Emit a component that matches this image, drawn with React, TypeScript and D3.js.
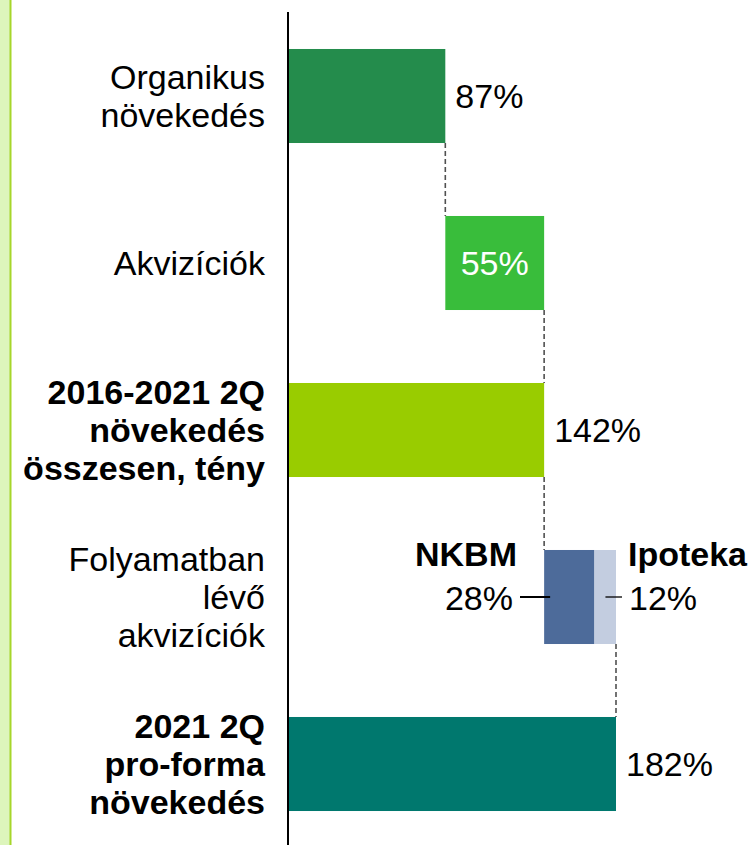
import React from 'react';
import * as d3 from 'd3';

// rows of the waterfall, top to bottom
const categories = ['organic', 'acq', 'total', 'pending', 'proforma'];
const rowLabels = [
  ['Organikus', 'növekedés'],
  ['Akvizíciók'],
  ['2016-2021 2Q', 'növekedés', 'összesen, tény'],
  ['Folyamatban', 'lévő', 'akvizíciók'],
  ['2021 2Q', 'pro-forma', 'növekedés'],
];
const boldRows = [false, false, true, false, true];
const isTotal = [false, false, true, false, true];
const values = [87, 55, 142, null, 182];
const pendingNames = ['NKBM', 'Ipoteka'];
const pendingValues = [28, 12];

const colors = ['#248C4C', '#39BD3B', '#99CC00', null, '#00786E'];
const pendingColors = ['#4D6B9A', '#C3CDE0'];

const W = 753;
const H = 845;
const FONT = '"Liberation Sans", Arial, sans-serif';
const FS = 34;

const App = () => {
  const x = d3.scaleLinear().domain([0, 182]).range([289, 616]);
  const y = d3
    .scaleBand()
    .domain(categories)
    .range([12.5, 847.5])
    .paddingInner(0.437)
    .paddingOuter(0.2185);
  const bw = y.bandwidth();

  // cumulative start / end of every row
  let running = 0;
  const rows = categories.map((c, i) => {
    const v = values[i] ?? d3.sum(pendingValues);
    const start = isTotal[i] ? 0 : running;
    const end = start + v;
    running = end;
    return { c, i, v, start, end };
  });

  const lineH = 38;
  const base = 12; // half cap height

  return (
    <svg width={W} height={H} style={{ position: 'absolute', left: 0, top: 0 }} fontFamily={FONT}>
      <rect x={0} y={0} width={W} height={H} fill="#fff" />
      {/* left decoration strip */}
      <rect x={0} y={0} width={10} height={H} fill="#DDF5BC" />
      <rect x={9.5} y={0} width={2} height={H} fill="#A6D62A" />

      {/* dashed connectors */}
      {rows.slice(0, -1).map((r, i) => {
        const next = rows[i + 1];
        return (
          <line
            key={'c' + i}
            x1={x(r.end)}
            x2={x(r.end)}
            y1={(y(r.c) as number) + bw}
            y2={y(next.c) as number}
            stroke="#505050"
            strokeWidth={1.6}
            strokeDasharray="5,3"
          />
        );
      })}

      {/* bars */}
      {rows.map((r) => {
        const top = y(r.c) as number;
        if (values[r.i] == null) {
          let acc = r.start;
          return (
            <g key={r.c}>
              {pendingValues.map((pv, k) => {
                const s = acc;
                acc += pv;
                return (
                  <rect key={k} x={x(s)} y={top} width={x(acc) - x(s)} height={bw} fill={pendingColors[k]} />
                );
              })}
            </g>
          );
        }
        return (
          <rect key={r.c} x={x(r.start)} y={top} width={x(r.end) - x(r.start)} height={bw} fill={colors[r.i] as string} />
        );
      })}

      {/* axis */}
      <line x1={288} x2={288} y1={12} y2={H} stroke="#000" strokeWidth={2} />

      {/* category labels */}
      {rows.map((r) => {
        const cy = (y(r.c) as number) + bw / 2;
        const lines = rowLabels[r.i];
        const first = cy + base - ((lines.length - 1) * lineH) / 2;
        return (
          <text
            key={'l' + r.c}
            textAnchor="end"
            fontSize={FS}
            fontWeight={boldRows[r.i] ? 'bold' : 'normal'}
            fill="#000"
          >
            {lines.map((t, k) => (
              <tspan key={k} x={265} y={first + k * lineH}>
                {t}
              </tspan>
            ))}
          </text>
        );
      })}

      {/* value labels */}
      {rows.map((r) => {
        if (values[r.i] == null) return null;
        const cy = (y(r.c) as number) + bw / 2 + base;
        if (r.c === 'acq') {
          return (
            <text key={'v' + r.c} x={(x(r.start) + x(r.end)) / 2} y={cy} textAnchor="middle" fontSize={FS} fill="#fff">
              {r.v}%
            </text>
          );
        }
        return (
          <text key={'v' + r.c} x={x(r.end) + 10} y={cy} fontSize={FS} fill="#000">
            {r.v}%
          </text>
        );
      })}

      {/* pending acquisition callouts */}
      {(() => {
        const r = rows[3];
        const top = y(r.c) as number;
        const cy = top + bw / 2;
        const x0 = x(r.start);
        const x1 = x(r.start + pendingValues[0]);
        const x2 = x(r.end);
        return (
          <g>
            <text x={517} y={top + 16} textAnchor="end" fontSize={FS} fontWeight="bold">
              {pendingNames[0]}
            </text>
            <text x={513} y={cy + 13} textAnchor="end" fontSize={FS}>
              {pendingValues[0]}%
            </text>
            <line x1={520} x2={x0 + 6} y1={cy} y2={cy} stroke="#000" strokeWidth={2} />
            <text x={x2 + 12} y={top + 16} fontSize={FS} fontWeight="bold">
              {pendingNames[1]}
            </text>
            <text x={x2 + 13} y={cy + 13} fontSize={FS}>
              {pendingValues[1]}%
            </text>
            <line x1={x1 + 11} x2={x2 + 6} y1={cy} y2={cy} stroke="#000" strokeWidth={1.3} />
          </g>
        );
      })()}
    </svg>
  );
};

export default App;
